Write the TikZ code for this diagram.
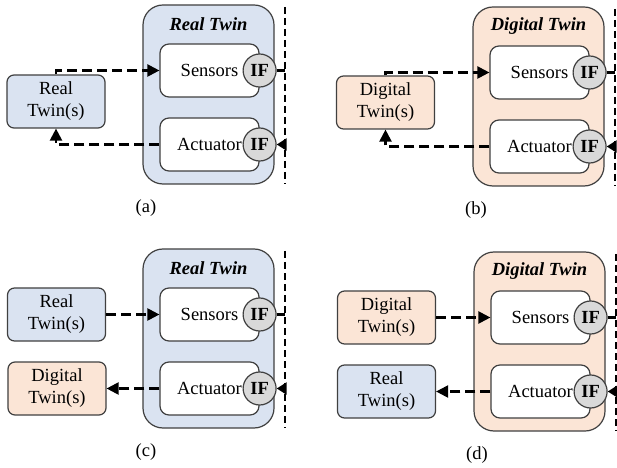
\documentclass[tikz,border=0pt]{standalone}
\usepackage{fontspec}
\setmainfont{Liberation Serif}
\newfontfamily\twinfont{Liberation Serif}
\usetikzlibrary{arrows.meta}
\definecolor{realfill}{RGB}{218,227,241}
\definecolor{digifill}{RGB}{251,229,214}
\definecolor{iffill}{RGB}{217,217,217}
\definecolor{edge}{RGB}{64,64,64}

\tikzset{
  every node/.style={font=\twinfont\fontsize{18.5bp}{22bp}\selectfont, inner sep=0pt},
  bigbox/.style={draw=edge, line width=1.2bp, rounded corners=20bp,
    minimum width=131bp, minimum height=179bp},
  innerbox/.style={draw=edge, line width=1.2bp, fill=white, rounded corners=9bp,
    minimum width=99bp, minimum height=53bp},
  ifnode/.style={circle, draw=edge, line width=1.2bp, fill=iffill, minimum size=33bp,
    font=\twinfont\fontsize{18.5bp}{22bp}\selectfont\bfseries},
  twinbox/.style={draw=edge, line width=1.2bp, rounded corners=7bp,
    minimum width=98bp, minimum height=53bp, align=center},
  paneltitle/.style={font=\twinfont\fontsize{18.5bp}{22bp}\selectfont\bfseries\itshape},
  flow/.style={line width=2.2bp, dash pattern=on 10bp off 5bp,
    -{Triangle[length=12bp,width=12bp]}},
  shortflow/.style={line width=2.2bp, -{Triangle[length=10bp,width=12bp]}},
  link/.style={line width=2.2bp},
  divider/.style={line width=1.5bp, dash pattern=on 7bp off 4bp},
}

% One twin block: #1 name prefix, #2 shift, #3 fill, #4 title, #5 caption letter
\newcommand\twinpanel[5]{%
  \begin{scope}[shift={(#2)}]
    \node[bigbox, fill=#3] (#1big) at (208.5,94.5) {};
    \node[paneltitle] (#1title) at (208.5,24) {#4};
    \node[innerbox] (#1sen) at (209.5,70.5) {Sensors};
    \node[innerbox] (#1act) at (209.5,144.5) {Actuator};
    \node[ifnode] (#1ifs) at (#1sen.east) {IF};
    \node[ifnode] (#1ifa) at (#1act.east) {IF};
    \coordinate (#1dtop) at (285,7);
    \coordinate (#1dbot) at (285,184);
    \draw[divider] (#1dtop) -- (#1dbot);
    \draw[link] (#1ifs.east) -- (#1ifs.east -| #1dtop);
    \draw[shortflow] (#1ifa.east -| #1dtop) -- (#1ifa.east);
    \node (#1cap) at (146,208) {(#5)};
  \end{scope}}

\begin{document}
\begin{tikzpicture}[x=1bp, y=-1bp]
  \useasboundingbox (0,0) rectangle (617,468);

  % (a) real twin fed by real twins
  \twinpanel{a}{0,0}{realfill}{Real Twin}{a}
  \node[twinbox, fill=realfill] (aleft) at (56,101.5) {Real\\Twin(s)};
  \draw[flow] (aleft.north) |- (asen.west);
  \draw[flow] (aact.west) -| (aleft.south);

  % (b) digital twin fed by digital twins
  \twinpanel{b}{330,2}{digifill}{Digital Twin}{b}
  \node[twinbox, fill=digifill] (bleft) at (385.5,102.5) {Digital\\Twin(s)};
  \draw[flow] (bleft.north) |- (bsen.west);
  \draw[flow] (bact.west) -| (bleft.south);

  % (c) real twin driving a digital twin
  \twinpanel{c}{0,244}{realfill}{Real Twin}{c}
  \node[twinbox, fill=realfill] (cup) at (56.5,314.5) {Real\\Twin(s)};
  \node[twinbox, fill=digifill] (clow) at (57,388.5) {Digital\\Twin(s)};
  \draw[flow] (cup.east) -- (csen.west);
  \draw[flow] (cact.west) -- (clow.east);

  % (d) digital twin driving a real twin
  \twinpanel{d}{331,247}{digifill}{Digital Twin}{d}
  \node[twinbox, fill=digifill] (dup) at (386.5,317.5) {Digital\\Twin(s)};
  \node[twinbox, fill=realfill] (dlow) at (386.5,391.5) {Real\\Twin(s)};
  \draw[flow] (dup.east) -- (dsen.west);
  \draw[flow] (dact.west) -- (dlow.east);
\end{tikzpicture}
\end{document}
